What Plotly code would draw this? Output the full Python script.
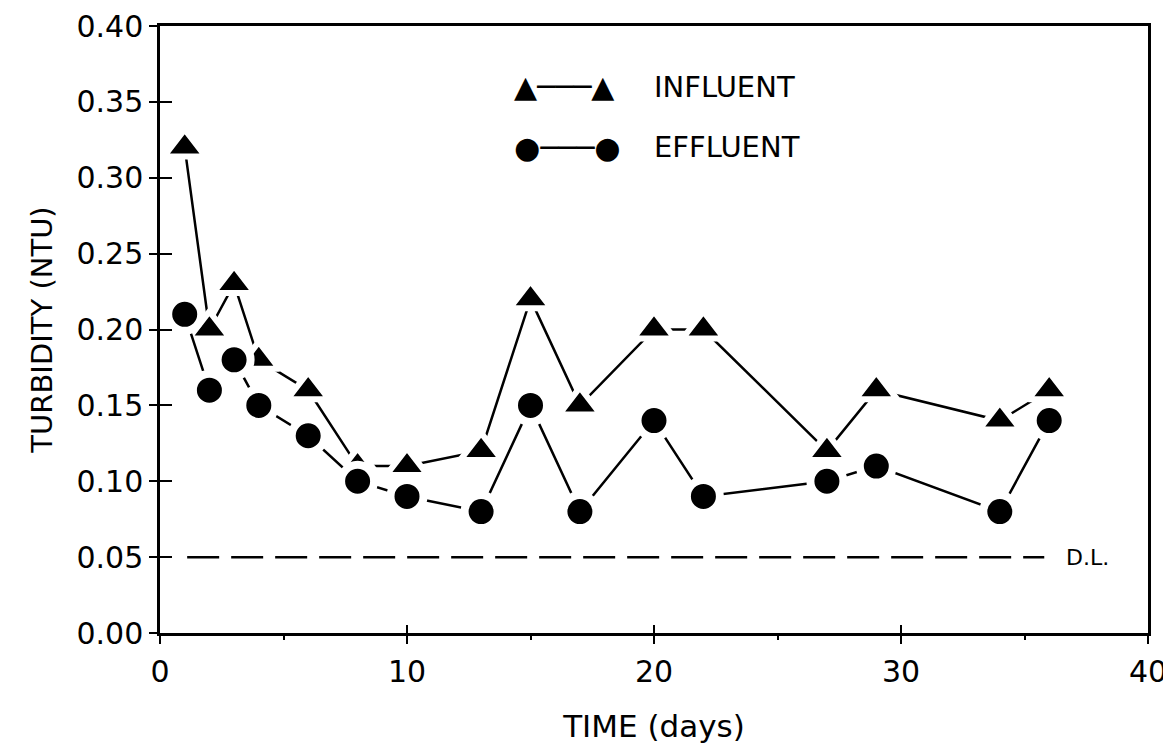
import plotly.graph_objects as go

# time (days) of each sampling
days = [1, 2, 3, 4, 6, 8, 10, 13, 15, 17, 20, 22, 27, 29, 34, 36]
# turbidity in NTU
influent = [0.32, 0.20, 0.23, 0.18, 0.16, 0.11, 0.11, 0.12, 0.22, 0.15, 0.20, 0.20, 0.12, 0.16, 0.14, 0.16]
effluent = [0.21, 0.16, 0.18, 0.15, 0.13, 0.10, 0.09, 0.08, 0.15, 0.08, 0.14, 0.09, 0.10, 0.11, 0.08, 0.14]

# detection limit
dl_value = 0.05
dl_x = [1.1, 35.8]

x_ticks = [0, 10, 20, 30, 40]
x_minor = [5, 15, 25, 35]
y_ticks = [0, 0.05, 0.10, 0.15, 0.20, 0.25, 0.30, 0.35, 0.40]

FONT = "DejaVu Sans"

fig = go.Figure()

# D.L. line sits on the overlay axes (same ranges) so their inner ticks get drawn
fig.add_trace(go.Scatter(
    x=dl_x, y=[dl_value, dl_value], mode="lines", xaxis="x2", yaxis="y2",
    line=dict(color="black", width=2.5, dash="32px,12px"),
    showlegend=False, hoverinfo="skip",
))

fig.add_trace(go.Scatter(
    x=days, y=influent, mode="lines+markers", name="INFLUENT",
    line=dict(color="black", width=2.5),
    marker=dict(symbol="triangle-up", size=36, color="black",
                line=dict(color="white", width=6)),
    showlegend=False,
))

fig.add_trace(go.Scatter(
    x=days, y=effluent, mode="lines+markers", name="EFFLUENT",
    line=dict(color="black", width=2.5),
    marker=dict(symbol="circle", size=33, color="black",
                line=dict(color="white", width=8)),
    showlegend=False,
))

fig.add_annotation(
    x=36.6, y=dl_value, xref="x", yref="y", text="D.L.", showarrow=False,
    xanchor="left", yanchor="middle", font=dict(family=FONT, size=22, color="black"),
)

# legend drawn as text keys
legend_rows = [("▲───▲", "INFLUENT", 0.90), ("●───●", "EFFLUENT", 0.80)]
for key, label, ypos in legend_rows:
    fig.add_annotation(
        x=0.356, y=ypos, xref="paper", yref="paper", text=key, showarrow=False,
        xanchor="left", yanchor="middle", font=dict(family=FONT, size=30, color="black"),
    )
    fig.add_annotation(
        x=0.498, y=ypos, xref="paper", yref="paper", text=label, showarrow=False,
        xanchor="left", yanchor="middle", font=dict(family=FONT, size=29, color="black"),
    )

axis_common = dict(
    showgrid=False, zeroline=False, showline=True, linecolor="black", linewidth=2.5,
    mirror=True, ticks="outside", tickcolor="black", tickwidth=2, automargin=False,
    tickfont=dict(family=FONT, size=30, color="black"),
)

fig.update_layout(
    width=1171, height=750,
    plot_bgcolor="white", paper_bgcolor="white",
    margin=dict(l=152, r=31, t=18, b=125),
    font=dict(family=FONT, color="black"),
    xaxis=dict(
        range=[0, 40], tickvals=x_ticks, ticklen=8, ticklabelstandoff=2,
        minor=dict(tickvals=x_minor, ticks="outside", ticklen=4, tickcolor="black", tickwidth=2),
        title=dict(text="TIME (days)", font=dict(family=FONT, size=31, color="black"), standoff=28),
        **axis_common,
    ),
    yaxis=dict(
        range=[0, 0.40], tickvals=y_ticks, tickformat=".2f", ticklen=8,
        title=dict(text="TURBIDITY (NTU)", font=dict(family=FONT, size=29, color="black"), standoff=16),
        **axis_common,
    ),
    xaxis2=dict(
        overlaying="x", anchor="y", range=[0, 40], tickvals=x_ticks,
        ticks="inside", ticklen=8, tickcolor="black", tickwidth=2,
        showticklabels=False, showgrid=False, zeroline=False, showline=False,
    ),
    yaxis2=dict(
        overlaying="y", anchor="x", range=[0, 0.40], tickvals=y_ticks,
        ticks="inside", ticklen=12, tickcolor="black", tickwidth=2,
        showticklabels=False, showgrid=False, zeroline=False, showline=False,
    ),
    showlegend=False,
)

fig.write_html("out.html")
